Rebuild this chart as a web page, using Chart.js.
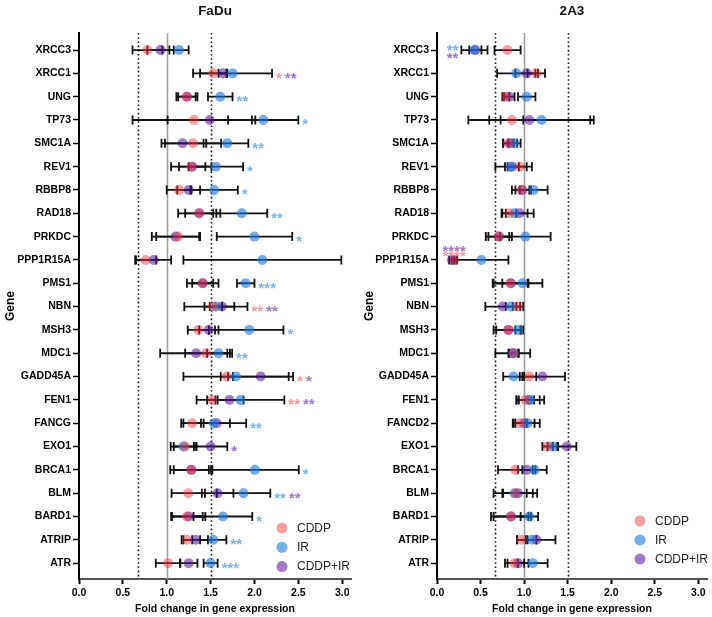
<!DOCTYPE html>
<html><head><meta charset="utf-8">
<script src="https://cdn.jsdelivr.net/npm/chart.js@4/dist/chart.umd.min.js"></script>
<style>
html,body{margin:0;padding:0;background:#fff;}
#wrap{position:relative;width:712px;height:617px;overflow:hidden;}
canvas{position:absolute;top:0;}
#c1{left:0;} #c2{left:356px;}
</style></head><body>
<div id="wrap"><canvas id="c1" width="356" height="617"></canvas><canvas id="c2" width="356" height="617"></canvas></div>
<script>
// ---------- DATA ----------
const genesFaDu = ["XRCC3","XRCC1","UNG","TP73","SMC1A","REV1","RBBP8","RAD18","PRKDC","PPP1R15A","PMS1","NBN","MSH3","MDC1","GADD45A","FEN1","FANCG","EXO1","BRCA1","BLM","BARD1","ATRIP","ATR"];
const genes2A3  = ["XRCC3","XRCC1","UNG","TP73","SMC1A","REV1","RBBP8","RAD18","PRKDC","PPP1R15A","PMS1","NBN","MSH3","MDC1","GADD45A","FEN1","FANCD2","EXO1","BRCA1","BLM","BARD1","ATRIP","ATR"];
const seriesNames = ["CDDP","IR","CDDP+IR"];
const xTickValues = [0, 0.5, 1.0, 1.5, 2.0, 2.5, 3.0];
const refLineValues = [0.67, 1.0, 1.5];

// FaDu: mean fold change and error (SD)
const faduCDDP     = [0.78,1.53,1.23,1.31,1.30,1.28,1.14,1.37,1.13,0.76,1.41,1.53,1.36,1.45,1.685,1.52,1.29,1.21,1.28,1.245,1.23,1.23,1.015];
const faduCDDPErr  = [0.17,0.15,0.12,0.70,0.32,0.23,0.14,0.24,0.25,0.12,0.18,0.10,0.12,0.24,0.07,0.06,0.10,0.13,0.20,0.19,0.18,0.06,0.14];
const faduIR       = [1.14,1.75,1.61,2.10,1.69,1.56,1.54,1.855,2.00,2.09,1.90,1.56,1.94,1.59,1.79,1.84,1.535,1.19,2.005,1.875,1.64,1.53,1.50];
const faduIRErr    = [0.11,0.45,0.14,0.40,0.24,0.31,0.27,0.29,0.43,0.90,0.10,0.36,0.39,0.13,0.60,0.50,0.37,0.145,0.50,0.305,0.335,0.15,0.08];
const faduCombo    = [0.93,1.64,1.23,1.49,1.18,1.29,1.25,1.37,1.10,0.85,1.41,1.63,1.48,1.335,2.07,1.715,1.57,1.50,1.28,1.58,1.25,1.33,1.25];
const faduComboErr = [0.15,0.05,0.10,0.48,0.24,0.15,0.13,0.16,0.27,0.20,0.12,0.14,0.11,0.41,0.37,0.16,0.15,0.19,0.24,0.18,0.19,0.14,0.10];
const faduStarsCDDP  = ["","*","","","","","","","","","","**","","","*","**","","","","","","",""];
const faduStarsIR    = ["","","**","*","**","*","*","**","*","","***","","*","**","","","**","","*","**","*","**","***"];
const faduStarsCombo = ["","**","","","","","","","","","","**","","","*","**","","*","","**","","",""];

// 2A3
const a3CDDP     = [0.81,1.14,0.79,0.86,0.82,0.95,0.97,0.83,0.71,0.20,0.84,0.93,0.82,0.88,1.06,1.015,0.95,1.27,0.90,0.90,0.85,0.97,0.89];
const a3CDDPErr  = [0.15,0.10,0.04,0.13,0.06,0.14,0.11,0.08,0.12,0.03,0.20,0.06,0.14,0.06,0.08,0.10,0.08,0.06,0.20,0.25,0.20,0.05,0.11];
const a3IR       = [0.43,0.91,1.03,1.20,0.89,0.85,1.11,0.89,1.015,0.51,0.98,0.85,0.93,0.88,0.88,1.07,1.04,1.33,1.12,0.89,1.06,1.09,1.10];
const a3IRErr    = [0.15,0.22,0.10,0.60,0.07,0.18,0.16,0.15,0.29,0.31,0.23,0.06,0.03,0.05,0.12,0.16,0.14,0.06,0.14,0.14,0.10,0.05,0.17];
const a3Combo    = [0.44,1.03,0.83,1.06,0.84,0.86,0.98,0.95,0.71,0.17,0.85,0.755,0.82,0.87,1.21,1.06,1.00,1.49,1.03,0.93,0.85,1.14,0.93];
const a3ComboErr = [0.07,0.13,0.06,0.70,0.08,0.08,0.08,0.16,0.15,0.03,0.20,0.20,0.17,0.20,0.26,0.12,0.12,0.11,0.10,0.17,0.23,0.22,0.12];
const a3StarsCDDP  = ["","","","","","","","","","****","","","","","","","","","","","","",""];
const a3StarsIR    = ["**","","","","","","","","","","","","","","","","","","","","","",""];
const a3StarsCombo = ["**","","","","","","","","","****","","","","","","","","","","","","",""];

// ---------- STYLE ----------
const FONT = "'Liberation Sans', Arial, Helvetica, sans-serif";
Chart.defaults.font.family = FONT;
Chart.defaults.color = '#000';
const fills = ['rgba(238,50,62,0.47)','rgba(30,120,220,0.62)','rgba(80,20,150,0.55)'];
const starColors = ['#F39A9E','#7DB4E8','#9B7BC6'];

const refLinesPlugin = {
  id: 'refLines',
  beforeDatasetsDraw(chart, args, o) {
    const {ctx, chartArea: a, scales: {x}} = chart;
    ctx.save();
    o.values.forEach(v => {
      const px = Math.round(x.getPixelForValue(v)) + 0.5;
      ctx.beginPath();
      if (v === 1) { ctx.setLineDash([]); ctx.strokeStyle = '#a0a0a0'; ctx.lineWidth = 1.6; }
      else { ctx.setLineDash([1.6, 2.6]); ctx.strokeStyle = '#111'; ctx.lineWidth = 1.6; }
      ctx.moveTo(px, a.top); ctx.lineTo(px, a.bottom); ctx.stroke();
    });
    ctx.restore();
  }
};

const errorBarPlugin = {
  id: 'errorBars',
  beforeDatasetsDraw(chart, args, o) {
    const {ctx, scales: {x, y}} = chart;
    ctx.save();
    ctx.strokeStyle = '#111'; ctx.lineWidth = 1.8; ctx.setLineDash([]);
    chart.data.datasets.forEach(ds => {
      ds.data.forEach((p, i) => {
        const e = ds.errors[i];
        const x1 = x.getPixelForValue(p.x - e), x2 = x.getPixelForValue(p.x + e);
        const py = y.getPixelForValue(p.y);
        ctx.beginPath();
        ctx.moveTo(x1, py); ctx.lineTo(x2, py);
        ctx.moveTo(x1, py - o.cap); ctx.lineTo(x1, py + o.cap);
        ctx.moveTo(x2, py - o.cap); ctx.lineTo(x2, py + o.cap);
        ctx.stroke();
      });
    });
    ctx.restore();
  }
};

const starsPlugin = {
  id: 'stars',
  afterDatasetsDraw(chart, args, o) {
    const {ctx, scales: {x, y}} = chart;
    const dss = chart.data.datasets;
    const n = dss[0].data.length;
    ctx.save();
    ctx.font = 'bold ' + o.size + 'px ' + FONT;
    for (let i = 0; i < n; i++) {
      const groups = dss.map(d => ({s: d.stars[i], c: d.starColor, px: x.getPixelForValue(d.data[i].x)})).filter(g => g.s);
      if (!groups.length) continue;
      const py = y.getPixelForValue(i);
      const mode = (o.layout && o.layout[i]) || 'right';
      if (mode === 'right') {
        let px = Math.max(...dss.map(d => x.getPixelForValue(d.data[i].x + d.errors[i]))) + o.gap;
        groups.forEach(g => {
          ctx.fillStyle = g.c; ctx.textAlign = 'left';
          ctx.fillText(g.s, px, py + o.base);
          px += ctx.measureText(g.s).width + o.groupGap;
        });
      } else if (mode === 'left') {
        const px = Math.min(...dss.map(d => x.getPixelForValue(d.data[i].x - d.errors[i]))) - 3;
        groups.forEach((g, k) => {
          ctx.fillStyle = g.c; ctx.textAlign = 'right';
          ctx.fillText(g.s, px, py + o.base - 5 + k * 8);
        });
      } else {
        const cx = groups.reduce((s, g) => s + g.px, 0) / groups.length + 1;
        groups.forEach((g, k) => {
          ctx.fillStyle = g.c; ctx.textAlign = 'center';
          ctx.fillText(g.s, cx, py + o.base - 8 - k * 5);
        });
      }
    }
    ctx.restore();
  }
};

const legendPlugin = {
  id: 'customLegend',
  afterDraw(chart, args, o) {
    const ctx = chart.ctx;
    ctx.save();
    chart.data.datasets.forEach((ds, i) => {
      const cx = o.x, cy = o.y + i * o.dy;
      ctx.beginPath(); ctx.arc(cx, cy, 5.5, 0, Math.PI * 2);
      ctx.fillStyle = ds.backgroundColor; ctx.fill();
      ctx.fillStyle = '#222'; ctx.font = '12px ' + FONT;
      ctx.textBaseline = 'middle'; ctx.textAlign = 'left';
      ctx.fillText(ds.label, cx + 15, cy + 0.5);
    });
    ctx.restore();
  }
};

function build(id, cfg) {
  const vals = [cfg.cddp, cfg.ir, cfg.combo];
  const errs = [cfg.cddpErr, cfg.irErr, cfg.comboErr];
  const stars = [cfg.sCddp, cfg.sIr, cfg.sCombo];
  const datasets = seriesNames.map((name, k) => ({
    label: name,
    data: cfg.genes.map((g, i) => ({x: vals[k][i], y: i})),
    errors: errs[k],
    stars: stars[k],
    starColor: starColors[k],
    backgroundColor: fills[k],
    borderWidth: 0,
    pointRadius: 5,
    pointHoverRadius: 5
  }));
  return new Chart(document.getElementById(id), {
    type: 'scatter',
    data: {datasets},
    plugins: [refLinesPlugin, errorBarPlugin, starsPlugin, legendPlugin],
    options: {
      responsive: false, animation: false, devicePixelRatio: 1,
      layout: {padding: {left: 0, right: cfg.padRight, top: 0, bottom: 0}},
      plugins: {
        legend: {display: false}, tooltip: {enabled: false},
        title: {display: true, text: cfg.title, fullSize: false, color: '#111',
                font: {size: 13.5, weight: 'bold'}, padding: {top: 3, bottom: 13.8}},
        refLines: {values: refLineValues},
        errorBars: {cap: 4.5},
        stars: {size: 15, base: 9.5, gap: 4, groupGap: 3, layout: cfg.starLayout},
        customLegend: cfg.legend
      },
      scales: {
        x: {
          type: 'linear', min: 0, max: 3.1,
          afterBuildTicks: s => { s.ticks = xTickValues.map(v => ({value: v})); },
          ticks: {callback: v => Number(v).toFixed(1), font: {size: 10.5, weight: 'bold'}, color: '#000', padding: 3, maxRotation: 0},
          grid: {drawOnChartArea: false, drawTicks: true, tickLength: 5, tickColor: '#000', tickWidth: 2},
          border: {display: true, color: '#555', width: 2},
          title: {display: true, text: 'Fold change in gene expression', font: {size: 10.5, weight: 'bold'}, color: '#000', padding: {top: 0, bottom: 2}},
          afterFit: s => { s.height = 38; }
        },
        y: {
          type: 'linear', reverse: true, min: -0.73, max: 22.68,
          afterBuildTicks: s => { s.ticks = cfg.genes.map((g, i) => ({value: i})); },
          ticks: {callback: v => cfg.genes[v], autoSkip: false, font: {size: 10.5, weight: 'bold'}, color: '#000', padding: 2},
          grid: {drawOnChartArea: false, drawTicks: true, tickLength: 6, tickColor: '#000', tickWidth: 1.5},
          border: {display: true, color: '#000', width: 2},
          title: {display: true, text: 'Gene', font: {size: 12, weight: 'bold'}, color: '#000', padding: {top: cfg.geneTitlePad, bottom: 0}},
          afterFit: s => { s.width = cfg.yWidth; }
        }
      }
    }
  });
}

build('c1', {
  title: 'FaDu', genes: genesFaDu,
  cddp: faduCDDP, cddpErr: faduCDDPErr, ir: faduIR, irErr: faduIRErr, combo: faduCombo, comboErr: faduComboErr,
  sCddp: faduStarsCDDP, sIr: faduStarsIR, sCombo: faduStarsCombo,
  yWidth: 79, padRight: 5, geneTitlePad: 3,
  starLayout: {},
  legend: {x: 282, y: 528, dy: 19.3}
});
build('c2', {
  title: '2A3', genes: genes2A3,
  cddp: a3CDDP, cddpErr: a3CDDPErr, ir: a3IR, irErr: a3IRErr, combo: a3Combo, comboErr: a3ComboErr,
  sCddp: a3StarsCDDP, sIr: a3StarsIR, sCombo: a3StarsCombo,
  yWidth: 81, padRight: 4, geneTitlePad: 6,
  starLayout: {0: 'left', 9: 'above'},
  legend: {x: 284, y: 521, dy: 19}
});
</script>
</body></html>
